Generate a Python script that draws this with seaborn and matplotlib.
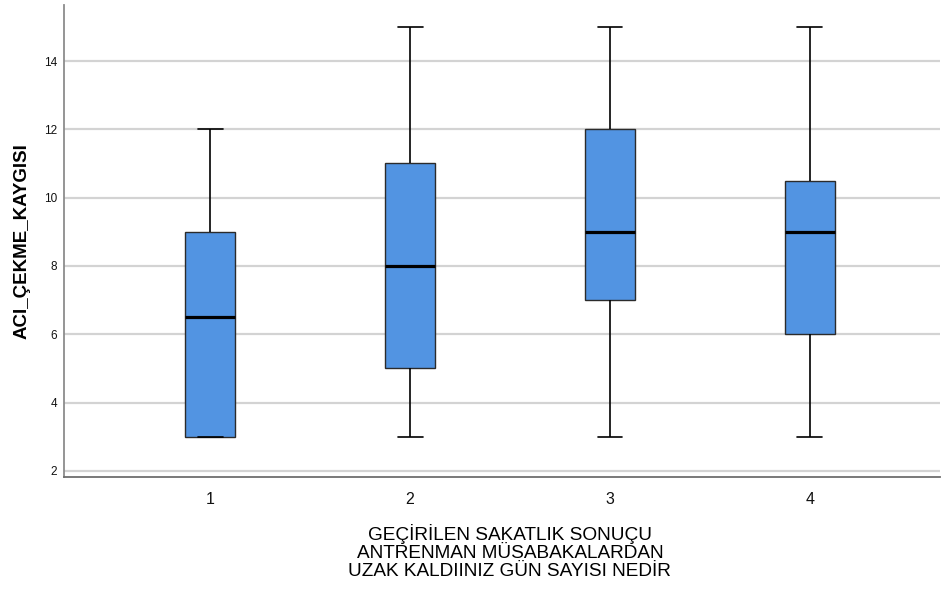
import numpy as np
import pandas as pd
import matplotlib
matplotlib.use("Agg")
import matplotlib.pyplot as plt
import seaborn as sns

# Five-number summaries (min, Q1, median, Q3, max) for each group
groups = ["1", "2", "3", "4"]
mins = [3, 3, 3, 3]
q1s = [3, 5, 7, 6]
medians = [6.5, 8, 9, 9]
q3s = [9, 11, 12, 10.5]
maxs = [12, 15, 15, 15]

rows = []
for g, a, b, c, d, e in zip(groups, mins, q1s, medians, q3s, maxs):
    for v in (a, b, c, d, e):
        rows.append({"grp": g, "val": v})
df = pd.DataFrame(rows)

sns.set_theme(style="white")
plt.rcParams["font.family"] = ["Liberation Sans", "DejaVu Sans"]

fig = plt.figure(figsize=(9.43, 5.9), dpi=100)
ax = fig.add_axes([0.0679, 0.1915, 0.9289, 0.8])

ax.set_axisbelow(True)
for yv in range(2, 16, 2):
    ax.axhline(yv, color="#d3d3d3", lw=1.6, zorder=0)

sns.boxplot(
    data=df, x="grp", y="val", order=groups, ax=ax,
    width=0.25, whis=(0, 100), color="#5294e2", saturation=1,
    linecolor="#2b2b2b", linewidth=1.0,
    medianprops=dict(color="black", linewidth=2.3),
    whiskerprops=dict(color="black", linewidth=1.2),
    capprops=dict(color="black", linewidth=1.2),
    showfliers=False,
)

ax.set_xlim(-0.73, 3.65)
ax.set_ylim(1.82, 15.64)
ax.set_yticks([2, 4, 6, 8, 10, 12, 14])
ax.tick_params(axis="y", labelsize=8.5, length=0, pad=5, colors="#111111")
ax.tick_params(axis="x", labelsize=11.5, length=0, pad=11, colors="#111111")

for s in ("top", "right"):
    ax.spines[s].set_visible(False)
ax.spines["left"].set_color("#8c8c8c")
ax.spines["left"].set_linewidth(1.3)
ax.spines["bottom"].set_color("#6e6e6e")
ax.spines["bottom"].set_linewidth(1.3)

ax.set_ylabel("ACI_ÇEKME_KAYGISI", fontsize=13.5, fontweight="bold", color="black")
ax.yaxis.set_label_coords(-0.038, 0.5)
ax.set_xlabel("GEÇİRİLEN SAKATLIK SONUÇU\nANTRENMAN MÜSABAKALARDAN\nUZAK KALDIINIZ GÜN SAYISI NEDİR",
              fontsize=13.7, linespacing=1.08, color="black", va="top")
ax.xaxis.set_label_coords(0.509, -0.1)

fig.savefig("out.png", dpi=100)
